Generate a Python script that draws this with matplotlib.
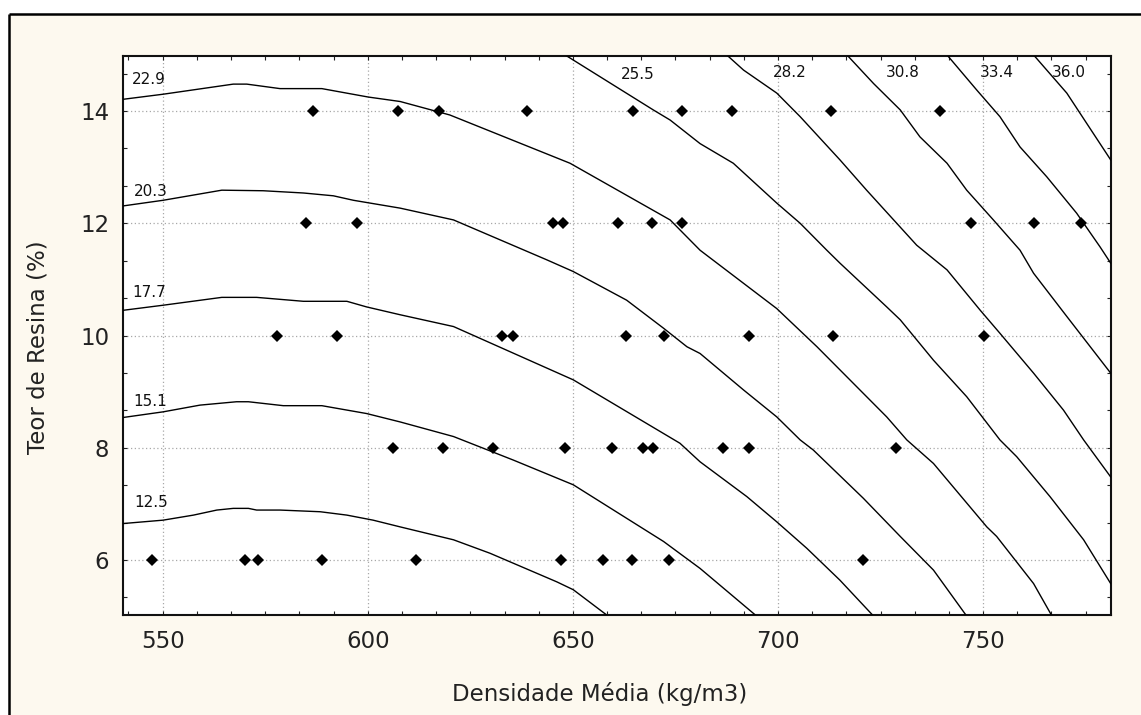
import matplotlib
matplotlib.use("Agg")
import matplotlib.pyplot as plt
from matplotlib.ticker import MultipleLocator
from matplotlib.patches import Rectangle
from matplotlib.lines import Line2D

# ---------------- data ----------------
# observed points (Densidade Média, Teor de Resina)
pts_x = [586.6, 607.3, 617.4, 638.7, 664.7, 676.7, 688.9, 712.9, 739.5,
         584.9, 597.4, 645.1, 647.5, 660.9, 669.4, 676.7, 747.1, 762.5, 773.8,
         577.9, 592.4, 632.8, 635.5, 662.9, 672.1, 692.9, 713.5, 750.1,
         606.2, 618.4, 630.5, 648.1, 659.6, 667.0, 669.5, 686.5, 692.9, 728.7,
         547.3, 570.1, 573.3, 588.9, 611.8, 647.1, 657.3, 664.3, 673.5, 720.8]
pts_y = [14] * 9 + [12] * 10 + [10] * 9 + [8] * 10 + [6] * 10

# contour lines
c125_x = [540.4, 550.1, 557.5, 563.2, 567.2, 570.9, 572.9, 578.6, 588.4, 594.9,
          601.3, 607.9, 620.9, 629.8, 646.1, 650.1, 658.6]
c125_y = [6.65, 6.71, 6.80, 6.89, 6.92, 6.92, 6.89, 6.89, 6.86, 6.80,
          6.71, 6.59, 6.36, 6.12, 5.61, 5.47, 5.0]

c151_x = [540.4, 550.1, 559.1, 568.0, 570.9, 579.4, 588.8, 599.7, 607.9, 620.9,
          635.5, 650.1, 672.1, 681.0, 694.8]
c151_y = [8.54, 8.64, 8.76, 8.82, 8.82, 8.75, 8.75, 8.61, 8.46, 8.20,
          7.78, 7.34, 6.33, 5.85, 5.0]

c177_x = [540.4, 550.1, 564.4, 572.9, 584.3, 594.9, 599.7, 607.9, 620.9, 650.1,
          676.1, 681.0, 692.4, 699.7, 707.0, 715.1, 723.3]
c177_y = [10.45, 10.54, 10.68, 10.68, 10.61, 10.61, 10.51, 10.37, 10.16, 9.21,
          8.08, 7.75, 7.13, 6.68, 6.21, 5.64, 5.0]

c203_x = [540.4, 550.1, 564.4, 574.5, 584.3, 591.6, 596.5, 607.9, 620.9, 643.6,
          650.1, 663.1, 672.1, 677.8, 681.0, 691.6, 699.7, 705.4, 708.6, 720.8,
          729.8, 737.9, 746.0]
c203_y = [12.31, 12.41, 12.59, 12.58, 12.54, 12.49, 12.41, 12.27, 12.06, 11.35,
          11.14, 10.63, 10.13, 9.80, 9.68, 9.03, 8.55, 8.14, 7.96, 7.10,
          6.42, 5.82, 5.0]

c229_x = [540.4, 550.1, 567.2, 570.5, 578.6, 588.8, 600.1, 607.9, 620.0, 649.3,
          673.7, 681.0, 699.7, 709.5, 726.5, 731.4, 737.9, 750.9, 753.3, 762.3, 766.8]
c229_y = [14.21, 14.30, 14.48, 14.48, 14.40, 14.40, 14.25, 14.17, 13.93, 13.07,
          12.06, 11.52, 10.48, 9.80, 8.55, 8.14, 7.72, 6.59, 6.42, 5.58, 5.0]

c255_x = [648.1, 669.6, 673.7, 681.0, 689.1, 699.7, 705.4, 711.9, 715.1, 726.5,
          729.8, 737.9, 746.0, 754.1, 758.2, 766.3, 774.5, 781.1]
c255_y = [15.0, 14.02, 13.84, 13.42, 13.07, 12.36, 12.00, 11.52, 11.29, 10.51,
          10.28, 9.56, 8.91, 8.14, 7.84, 7.13, 6.36, 5.58]

c282_x = [687.5, 691.6, 699.7, 705.4, 715.1, 721.6, 733.8, 741.2, 749.3, 754.1,
          762.3, 769.6, 774.5, 781.1]
c282_y = [15.0, 14.73, 14.32, 13.90, 13.13, 12.59, 11.61, 11.17, 10.45, 10.04,
          9.33, 8.67, 8.14, 7.48]

c308_x = [716.8, 723.3, 729.8, 734.6, 741.2, 746.0, 752.5, 759.0, 762.3, 770.4, 781.1]
c308_y = [15.0, 14.49, 14.02, 13.54, 13.07, 12.59, 12.06, 11.52, 11.11, 10.34, 9.33]

c334_x = [741.2, 748.5, 754.1, 759.0, 765.5, 772.8, 778.5, 781.1]
c334_y = [15.0, 14.37, 13.90, 13.36, 12.83, 12.18, 11.58, 11.29]

c360_x = [762.3, 770.4, 781.1]
c360_y = [15.0, 14.32, 13.13]

contour_levels = ["12.5", "15.1", "17.7", "20.3", "22.9", "25.5", "28.2", "30.8", "33.4", "36.0"]
contour_xs = [c125_x, c151_x, c177_x, c203_x, c229_x, c255_x, c282_x, c308_x, c334_x, c360_x]
contour_ys = [c125_y, c151_y, c177_y, c203_y, c229_y, c255_y, c282_y, c308_y, c334_y, c360_y]

x_ticks = [550, 600, 650, 700, 750]
y_ticks = [6, 8, 10, 12, 14]

x_label = "Densidade Média (kg/m3)"
y_label = "Teor de Resina (%)"

# ---------------- figure ----------------
W, H = 1141, 715
plt.rcParams["font.family"] = ["DejaVu Sans"]
fig = plt.figure(figsize=(W / 100, H / 100), dpi=100, facecolor="white")

cream = "#FDF9EF"
fig.patches.append(Rectangle((8.5 / W, 0), 1 - 8.5 / W, 1 - 14 / H,
                             transform=fig.transFigure, facecolor=cream,
                             edgecolor="none", zorder=-5))
fig.add_artist(Line2D([8.7 / W, 8.7 / W], [0, 1 - 14 / H], color="black",
                      lw=1.8, transform=fig.transFigure, solid_capstyle="butt",
                      zorder=-4))
fig.add_artist(Line2D([8.7 / W, 1], [1 - 14.3 / H, 1 - 14.3 / H], color="black",
                      lw=1.8, transform=fig.transFigure, solid_capstyle="butt",
                      zorder=-4))

left, right, top, bottom = 123.3, 1110.7, 55.5, 615.0
ax = fig.add_axes([left / W, 1 - bottom / H, (right - left) / W, (bottom - top) / H])
ax.set_zorder(1)
ax.set_facecolor("white")
ax.set_xlim(540.4, 781.1)
ax.set_ylim(5.02, 14.99)

for cx, cy in zip(contour_xs, contour_ys):
    ax.plot(cx, cy, color="black", lw=1.0, zorder=3, clip_on=True)

ax.plot(pts_x, pts_y, linestyle="none", marker="D", ms=6.6, color="black",
        markeredgewidth=0, zorder=4)

# contour labels
label_pos = {
    "22.9": (546.7, 14.56), "20.3": (547.1, 12.57), "17.7": (546.7, 10.76),
    "15.1": (547.0, 8.83), "12.5": (547.3, 7.02), "25.5": (665.8, 14.66),
    "28.2": (702.9, 14.69), "30.8": (730.3, 14.69), "33.4": (753.3, 14.69),
    "36.0": (770.8, 14.69),
}
for lev in contour_levels:
    lx, ly = label_pos[lev]
    ax.text(lx, ly, lev, fontsize=11, ha="center", va="center", color="#111111", zorder=5)

ax.set_xticks(x_ticks)
ax.set_yticks(y_ticks)
ax.xaxis.set_minor_locator(MultipleLocator(50 / 6))
ax.yaxis.set_minor_locator(MultipleLocator(2 / 3))
ax.tick_params(which="both", direction="in", top=True, right=True,
               length=2.6, width=0.8, color="#222222")
ax.tick_params(axis="x", which="major", labelsize=16.5, pad=11, labelcolor="#222222")
ax.tick_params(axis="y", which="major", labelsize=16.5, pad=10, labelcolor="#222222")
ax.grid(True, which="major", color="#A8A8A8", linestyle=(0, (1, 2)), lw=0.9)
ax.set_axisbelow(True)
for s in ax.spines.values():
    s.set_linewidth(1.5)
    s.set_color("#111111")

fig.text(599.5 / W, 1 - 700.7 / H, x_label, fontsize=16.5, ha="center",
         va="baseline", color="#222222")
fig.text(38 / W, 1 - 347.5 / H, y_label, fontsize=16.5, ha="center",
         va="center", rotation=90, color="#222222")

fig.savefig("out.png", dpi=100, facecolor=fig.get_facecolor())
